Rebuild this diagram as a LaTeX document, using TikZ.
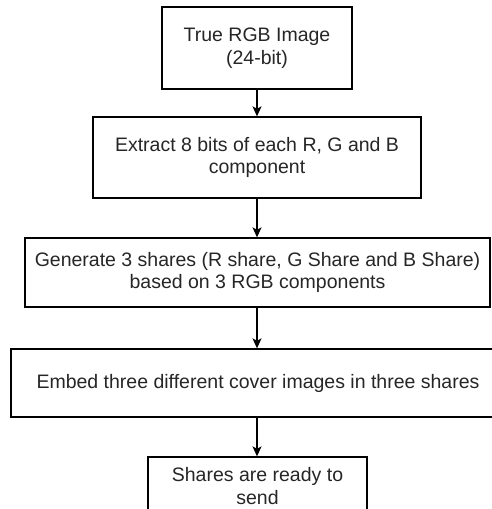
\documentclass[tikz,border=0pt]{standalone}
\usepackage{fontspec}
\setmainfont{Liberation Sans}
\usetikzlibrary{arrows.meta}
\begin{document}
\begin{tikzpicture}[x=1pt,y=-1pt,
  box/.style={draw=black, line width=1.3pt, fill=white, inner sep=0pt, align=center,
    font=\fontsize{19.5}{22.5}\selectfont, text=black!85},
  arr/.style={-{Stealth[length=10pt,width=9pt,inset=2.5pt]}, line width=1.3pt}]
\useasboundingbox (0,0) rectangle (492,509);
\clip (0,0) rectangle (492,509);
\node[box, minimum width=190pt, minimum height=82pt] (b1) at (257,48) {True RGB Image\\(24-bit)};
\node[box, minimum width=328pt, minimum height=81pt] (b2) at (257,157.5) {Extract 8 bits of each R, G and B\\component};
\node[box, minimum width=465pt, minimum height=69pt] (b3) at (257.5,272.5) {Generate 3 shares (R share, G Share and B Share)\\based on 3 RGB components};
\node[box, minimum width=494pt, minimum height=68pt] (b4) at (258,383) {Embed three different cover images in three shares};
\node[box, minimum width=219pt, minimum height=58pt] (b5) at (257.5,486) {Shares are ready to\\send};
\draw[arr] (b1.south -| 257,0) -- (b2.north -| 257,0);
\draw[arr] (b2.south -| 257,0) -- (b3.north -| 257,0);
\draw[arr] (b3.south -| 257,0) -- (b4.north -| 257,0);
\draw[arr] (b4.south -| 257,0) -- (b5.north -| 257,0);
\end{tikzpicture}
\end{document}
